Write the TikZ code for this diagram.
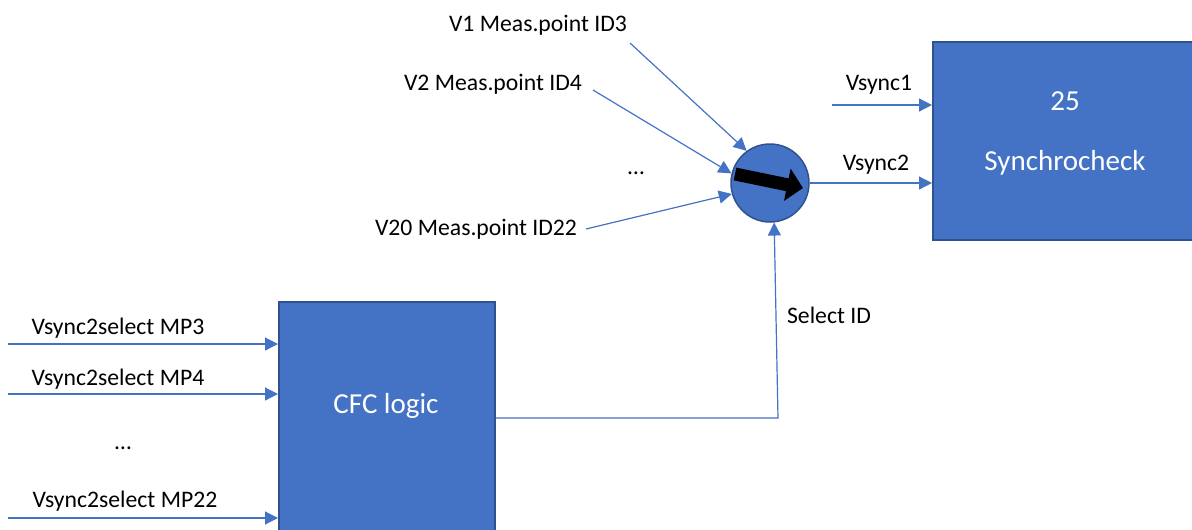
\documentclass[tikz,border=0pt]{standalone}
\usepackage{fontspec}
\setmainfont{Carlito}
\usetikzlibrary{arrows.meta}
\definecolor{office}{HTML}{4472C4}
\definecolor{officeedge}{HTML}{2F528F}
\begin{document}
\begin{tikzpicture}[x=1pt,y=-1pt,
  lbl/.style={font=\fontsize{23.7}{28}\selectfont, text=black, inner sep=0pt, anchor=base},
  wlbl/.style={font=\fontsize{29}{34}\selectfont, text=white, inner sep=0pt, anchor=base},
  block/.style={draw=officeedge, line width=1.6pt, fill=office, inner sep=0pt, anchor=north west},
  sig/.style={draw=office, line width=1.2pt, -{Triangle[length=13pt,width=13pt]}}
]
\useasboundingbox (0,0) rectangle (1192,530);
\clip (0,0) rectangle (1192,530);

% function blocks
\node[block, minimum width=275pt, minimum height=198pt] (sync) at (932,41) {};
\node[block, minimum width=216pt, minimum height=250pt] (cfc) at (278,301) {};
\node[wlbl] (n25) at (1065,110) {25};
\node[wlbl] (synctext) at (1065,170) {Synchrocheck};
\node[wlbl] (cfctext) at (386,413) {CFC logic};

% selector switch
\node[circle, draw=officeedge, line width=1.5pt, fill=office, minimum size=78pt, inner sep=0pt] (sw) at (770,183) {};
\draw[line width=13pt, -{Triangle[length=16pt,width=32pt]}] ([shift={(-35,-9)}]sw.center) -- ([shift={(33,5)}]sw.center);

% measuring point inputs
\node[lbl] (v1) at (538,31) {V1 Meas.point ID3};
\node[lbl] (v2) at (493,90) {V2 Meas.point ID4};
\node[lbl] (vdots) at (636,174) {…};
\node[lbl] (v20) at (476,235) {V20 Meas.point ID22};
\coordinate (v1s) at (630,43);
\coordinate (v2s) at (593,90);
\coordinate (v20s) at (586,229);
\draw[sig] (v1s) -- (sw.126);
\draw[sig] (v2s) -- (sw.166);
\draw[sig] (v20s) -- (sw.196);

% synchrocheck inputs
\coordinate (vs1) at (832,105);
\draw[sig] (vs1) -- (sync.west |- vs1);
\draw[sig] (sw.east) -- (sync.west |- sw.east);
\node[lbl] (vsync1) at (879,90) {Vsync1};
\node[lbl] (vsync2) at (876,170) {Vsync2};

% selection signal
\coordinate (selbend) at (778,418);
\draw[sig] (cfc.east |- selbend) -- (selbend) -- (sw.276);
\node[lbl] (selid) at (829,323) {Select ID};

% CFC inputs
\coordinate (mp3) at (8,344);
\coordinate (mp4) at (8,394);
\coordinate (mp22) at (8,518);
\draw[sig] (mp3) -- (cfc.west |- mp3);
\draw[sig] (mp4) -- (cfc.west |- mp4);
\draw[sig] (mp22) -- (cfc.west |- mp22);
\node[lbl] (lmp3) at (118,334) {Vsync2select MP3};
\node[lbl] (lmp4) at (118,385) {Vsync2select MP4};
\node[lbl] (ldots) at (123,449) {…};
\node[lbl] (lmp22) at (125,507) {Vsync2select MP22};
\end{tikzpicture}
\end{document}
